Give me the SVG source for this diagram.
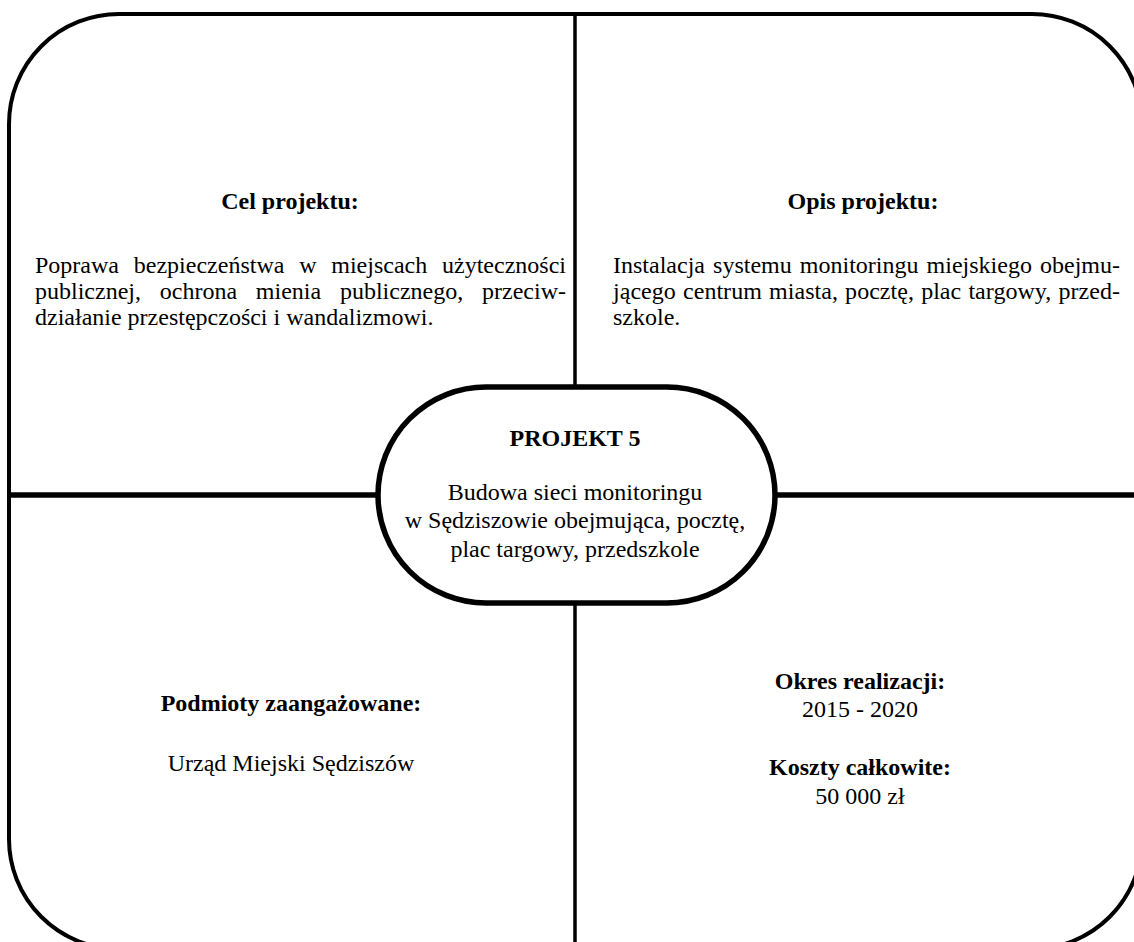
<svg xmlns="http://www.w3.org/2000/svg" width="1134" height="942" viewBox="0 0 1134 942">
<style>
.t{font-family:"Liberation Serif","Times New Roman",serif;font-size:24px;fill:#000}
.b{font-weight:bold}
.c{text-anchor:middle}
</style>
<rect x="0" y="0" width="1134" height="942" fill="#fff"/>
<g id="frame">
<rect x="9" y="14" width="1133" height="935" rx="110" ry="110" fill="none" stroke="#000" stroke-width="4"/>
</g>
<g id="connectors">
<line x1="575" y1="14" x2="575" y2="949" stroke="#000" stroke-width="3.5"/>
<line x1="9" y1="495" x2="1142" y2="495" stroke="#000" stroke-width="5.5"/>
</g>
<g id="center">
<rect x="378" y="387" width="397" height="216" rx="108" ry="108" fill="#fff" stroke="#000" stroke-width="5.5"/>
<text class="t b c" x="575" y="446">PROJEKT 5</text>
<text class="t c" x="575" y="500">Budowa sieci monitoringu</text>
<text class="t c" x="575" y="528">w Sędziszowie obejmująca, pocztę,</text>
<text class="t c" x="575" y="557">plac targowy, przedszkole</text>
</g>
<g id="cel">
<text class="t b c" x="290" y="209">Cel projektu:</text>
<text class="t" x="35" y="273" word-spacing="8.75" textLength="531" lengthAdjust="spacing">Poprawa bezpieczeństwa w miejscach użyteczności</text>
<text class="t" x="35" y="299" word-spacing="12.75" textLength="531" lengthAdjust="spacing">publicznej, ochrona mienia publicznego, przeciw-</text>
<text class="t" x="35" y="325">działanie przestępczości i wandalizmowi.</text>
</g>
<g id="opis">
<text class="t b c" x="863" y="209">Opis projektu:</text>
<text class="t" x="613" y="273" word-spacing="2.1" textLength="507" lengthAdjust="spacing">Instalacja systemu monitoringu miejskiego obejmu-</text>
<text class="t" x="613" y="299" word-spacing="1.1" textLength="507" lengthAdjust="spacing">jącego centrum miasta, pocztę, plac targowy, przed-</text>
<text class="t" x="613" y="325">szkole.</text>
</g>
<g id="podmioty">
<text class="t b c" x="291" y="711">Podmioty zaangażowane:</text>
<text class="t c" x="291" y="771">Urząd Miejski Sędziszów</text>
</g>
<g id="okres">
<text class="t b c" x="860" y="689">Okres realizacji:</text>
<text class="t c" x="860" y="717">2015 - 2020</text>
<text class="t b c" x="860" y="775">Koszty całkowite:</text>
<text class="t c" x="860" y="804">50 000 zł</text>
</g>
</svg>
